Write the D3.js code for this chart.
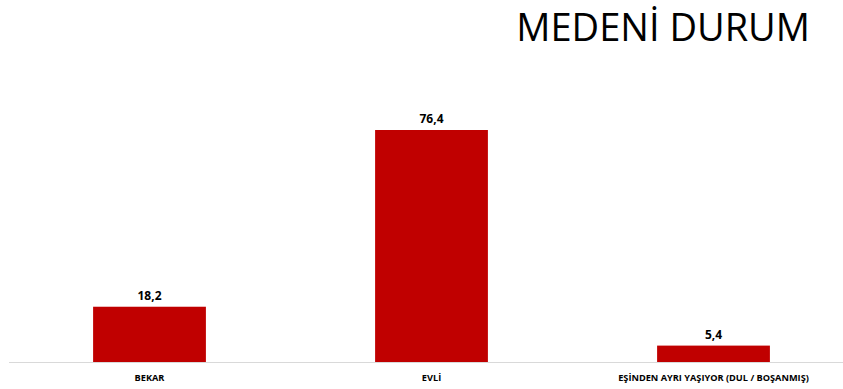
<!DOCTYPE html>
<html>
<head>
<meta charset="utf-8">
<script src="https://cdn.jsdelivr.net/npm/d3@7"></script>
<style>
  html, body { margin: 0; padding: 0; background: #ffffff; }
  svg { display: block; }
</style>
</head>
<body>
<svg id="chart" width="843" height="389"></svg>
<script>
// Marital status distribution (%)
const categories = ["BEKAR", "EVLİ", "EŞİNDEN AYRI YAŞIYOR (DUL / BOŞANMIŞ)"];
const values = [18.2, 76.4, 5.4];
const valueLabels = ["18,2", "76,4", "5,4"];
const title = "MEDENİ DURUM";

const svg = d3.select("#chart");
const baseY = 362;

const x = d3.scaleBand()
  .domain(categories)
  .range([8.5, 854.5])
  .paddingInner(0.6)
  .paddingOuter(0.3);

const y = d3.scaleLinear()
  .domain([0, 76.4])
  .range([baseY, 130]);

// Title
svg.append("text")
  .attr("x", 810)
  .attr("y", 41)
  .attr("text-anchor", "end")
  .attr("font-family", "'Open Sans', sans-serif")
  .attr("font-size", 38)
  .attr("fill", "#000")
  .text(title);

// Bars
svg.selectAll("rect.bar")
  .data(categories)
  .enter().append("rect")
  .attr("class", "bar")
  .attr("x", d => x(d))
  .attr("width", x.bandwidth())
  .attr("y", (d, i) => y(values[i]))
  .attr("height", (d, i) => baseY - y(values[i]))
  .attr("fill", "#c00000");

// Value labels
svg.selectAll("text.val")
  .data(categories)
  .enter().append("text")
  .attr("class", "val")
  .attr("x", d => x(d) + x.bandwidth() / 2)
  .attr("y", (d, i) => y(values[i]) - 7)
  .attr("text-anchor", "middle")
  .attr("font-family", "'Open Sans', sans-serif")
  .attr("font-weight", "bold")
  .attr("font-size", 12)
  .attr("fill", "#000")
  .text((d, i) => valueLabels[i]);

// Baseline axis
const axis = d3.axisBottom(x).tickSize(0).tickPadding(12);
const g = svg.append("g")
  .attr("transform", `translate(0,${baseY})`)
  .call(axis);
g.select(".domain").attr("stroke", "#d9d9d9").attr("stroke-width", 1);
g.selectAll(".tick text")
  .attr("font-family", "'Open Sans', sans-serif")
  .attr("font-weight", "bold")
  .attr("font-size", 9.2)
  .attr("fill", "#000");
</script>
</body>
</html>
